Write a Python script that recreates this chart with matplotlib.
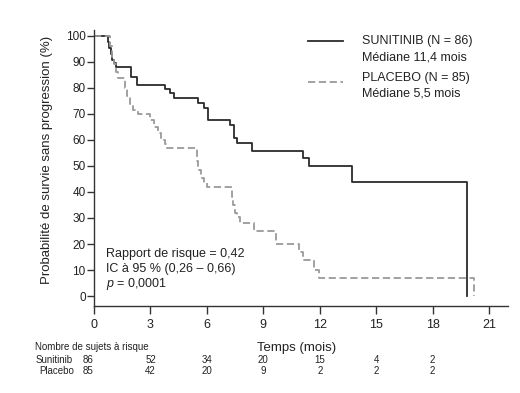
import matplotlib
matplotlib.use("Agg")
import matplotlib.pyplot as plt
from matplotlib.lines import Line2D
from matplotlib.transforms import blended_transform_factory

plt.rcParams['font.family'] = ['Liberation Sans', 'DejaVu Sans']
plt.rcParams['mathtext.fontset'] = 'custom'
plt.rcParams['mathtext.it'] = 'Liberation Sans:italic'
plt.rcParams['mathtext.rm'] = 'Liberation Sans'

# Kaplan-Meier steps (months, %)
suni_t = [0, 0.74, 0.82, 0.90, 0.98, 1.06, 1.16, 1.95, 2.27, 3.78, 4.04, 4.26,
          5.55, 5.82, 6.08, 7.23, 7.45, 7.59, 8.39, 11.13, 11.44, 13.72, 19.84]
suni_s = [100, 97.7, 95.4, 93.0, 90.7, 89.5, 88.0, 84.3, 81.0, 79.4, 77.9, 76.0,
          74.0, 72.1, 67.6, 65.7, 60.6, 58.7, 55.7, 52.9, 49.9, 43.8, 0]

plac_t = [0, 0.85, 0.95, 1.05, 1.15, 1.28, 1.63, 1.75, 1.9, 2.07, 2.34,
          2.98, 3.2, 3.4, 3.55, 3.75, 3.87, 5.46, 5.55, 5.7, 5.85, 6.0,
          7.32, 7.4, 7.5, 7.59, 7.75, 8.48, 9.68, 10.87, 11.13, 11.67, 11.98, 20.2]
plac_s = [100, 96, 92, 89, 86, 83.7, 80, 77, 73.3, 71.5, 69.8,
          67.5, 65, 62.5, 60, 58.5, 56.7, 52, 48.4, 45.5, 43.5, 41.8,
          38, 35, 32, 30.5, 28.2, 25, 19.9, 17, 14, 10, 6.8, 0]

x_ticks = [0, 3, 6, 9, 12, 15, 18, 21]
y_ticks = [0, 10, 20, 30, 40, 50, 60, 70, 80, 90, 100]

risk_times = [0, 3, 6, 9, 12, 15, 18]
risk_suni = [86, 52, 34, 20, 15, 4, 2]
risk_plac = [85, 42, 20, 9, 2, 2, 2]

W, H = 520, 393
fig = plt.figure(figsize=(W / 100, H / 100), dpi=100)
ax = fig.add_axes([94 / W, 1 - 306 / H, 414 / W, 276 / H])

dark = '#2b2b2b'
grey = '#9a9a9a'
ax.step(suni_t, suni_s, where='post', color=dark, lw=1.3)
ax.step(plac_t, plac_s, where='post', color=grey, lw=1.3, dashes=(4, 2))

ax.set_xlim(0, 22)
ax.set_ylim(-3.8, 102.2)
ax.set_xticks(x_ticks)
ax.set_yticks(y_ticks)
for s in ['top', 'right']:
    ax.spines[s].set_visible(False)
for s in ['left', 'bottom']:
    ax.spines[s].set_color('#333333')
    ax.spines[s].set_linewidth(1.0)
ax.tick_params(axis='x', length=6, width=1, color='#333333', pad=3, labelsize=9, labelcolor='#222222')
ax.tick_params(axis='y', length=5, width=1, color='#333333', pad=1, labelsize=8.5, labelcolor='#222222')

ax.set_ylabel('Probabilité de survie sans progression (%)', fontsize=9.5, color='#222222')
ax.yaxis.set_label_coords((53 - 94) / 414, (306 - 160) / 276)
ax.set_xlabel('Temps (mois)', fontsize=9.5, color='#222222')
ax.xaxis.set_label_coords((297 - 94) / 414, (306 - 342) / 276)

# legend drawn by hand
def fx(px):
    return px / W

def fy(py):
    return 1 - py / H

fig.add_artist(Line2D([fx(308), fx(343)], [fy(41), fy(41)], color=dark, lw=1.3))
fig.add_artist(Line2D([fx(308), fx(343)], [fy(82), fy(82)], color=grey, lw=1.3, dashes=(4, 2)))
leg_kw = dict(fontsize=9, color='#222222', va='center', ha='left')
fig.text(fx(362), fy(41), 'SUNITINIB (N = 86)', **leg_kw)
fig.text(fx(362), fy(57), 'Médiane 11,4 mois', **leg_kw)
fig.text(fx(362), fy(78), 'PLACEBO (N = 85)', **leg_kw)
fig.text(fx(362), fy(94), 'Médiane 5,5 mois', **leg_kw)

ann_kw = dict(fontsize=9, color='#222222', va='center', ha='left')
fig.text(fx(106), fy(254), 'Rapport de risque = 0,42', **ann_kw)
fig.text(fx(106), fy(269), 'IC à 95 % (0,26 – 0,66)', **ann_kw)
fig.text(fx(106), fy(284), r'$\it{p}$ = 0,0001', **ann_kw)

# number at risk table
tab_kw = dict(fontsize=7, color='#222222', va='center')
fig.text(fx(35), fy(347), 'Nombre de sujets à risque', ha='left', **tab_kw)
fig.text(fx(36), fy(360), 'Sunitinib', ha='left', **tab_kw)
fig.text(fx(39), fy(371), 'Placebo', ha='left', **tab_kw)
tr = blended_transform_factory(ax.transData, fig.transFigure)
for i, t in enumerate(risk_times):
    xt = t - 0.3 if i == 0 else t
    ax.text(xt, fy(360), str(risk_suni[i]), transform=tr, ha='center', **tab_kw)
    ax.text(xt, fy(371), str(risk_plac[i]), transform=tr, ha='center', **tab_kw)

fig.savefig('out.png', dpi=100)
